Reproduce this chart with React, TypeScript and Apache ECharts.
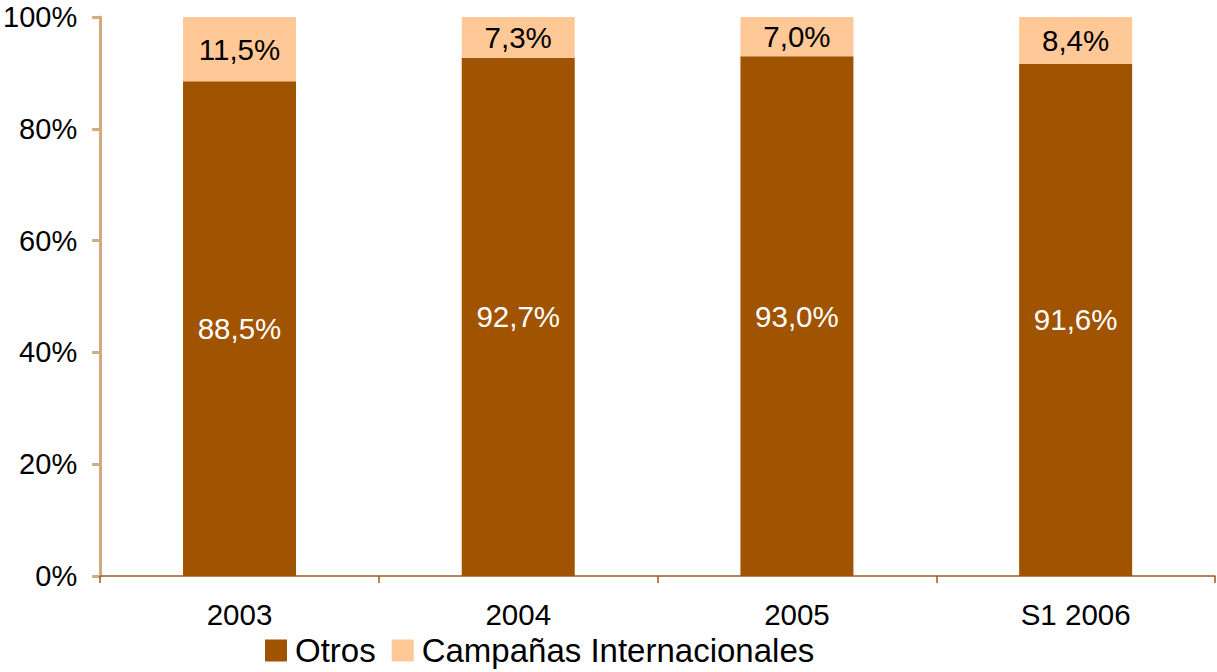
import React, { useEffect, useRef } from "react";
import * as echarts from "echarts";

const categories = ["2003", "2004", "2005", "S1 2006"];
const otros = [88.5, 92.7, 93.0, 91.6];
const campanas = [11.5, 7.3, 7.0, 8.4];
const yTicks = [0, 20, 40, 60, 80, 100];

const fmt = (v: number) => v.toFixed(1).replace(".", ",") + "%";

export default function App() {
  const ref = useRef<HTMLDivElement>(null);
  useEffect(() => {
    if (!ref.current) return;
    const chart = echarts.init(ref.current, undefined, { renderer: "svg" });
    const font = "'Liberation Sans', Arial, sans-serif";
    chart.setOption({
      animation: false,
      backgroundColor: "#ffffff",
      textStyle: { fontFamily: font },
      grid: { left: 98, right: 2, top: 17, bottom: 96, containLabel: false },
      legend: {
        left: 265,
        top: 634,
        padding: 0,
        itemWidth: 22,
        itemHeight: 22,
        itemGap: 16,
        icon: "rect",
        textStyle: { fontSize: 33, color: "#000", fontFamily: font, padding: [0, 0, 0, 3] },
        data: ["Otros", "Campañas Internacionales"],
      },
      xAxis: {
        type: "category",
        data: categories,
        axisLine: { lineStyle: { color: "#A0581E", width: 1.5 } },
        axisTick: { show: true, length: 7, lineStyle: { color: "#A0581E", width: 1.5 } },
        axisLabel: { fontSize: 29.5, color: "#000", margin: 23, fontFamily: font },
      },
      yAxis: {
        type: "value",
        min: 0,
        max: 100,
        interval: 20,
        splitLine: { show: false },
        axisLine: { show: true, lineStyle: { color: "#D2AA80", width: 3 } },
        axisTick: { show: true, length: 8, lineStyle: { color: "#D2AA80", width: 3 } },
        axisLabel: {
          fontSize: 29,
          color: "#000",
          margin: 23,
          fontFamily: font,
          formatter: (v: number) => (yTicks.includes(v) ? v + "%" : ""),
        },
      },
      series: [
        {
          name: "Otros",
          type: "bar",
          stack: "total",
          data: otros,
          barWidth: 113,
          itemStyle: { color: "#A05300" },
          label: {
            show: true,
            position: "inside",
            color: "#ffffff",
            fontSize: 29.5,
            fontFamily: font,
            formatter: (p: any) => fmt(p.value),
          },
        },
        {
          name: "Campañas Internacionales",
          type: "bar",
          stack: "total",
          data: campanas,
          barWidth: 113,
          itemStyle: { color: "#FFC896" },
          label: {
            show: true,
            position: "inside",
            color: "#000000",
            fontSize: 29.5,
            fontFamily: font,
            formatter: (p: any) => fmt(p.value),
          },
        },
      ],
    });
    return () => chart.dispose();
  }, []);
  return (
    <div
      ref={ref}
      style={{ position: "fixed", left: 0, top: 0, width: 1217, height: 672 }}
    />
  );
}
